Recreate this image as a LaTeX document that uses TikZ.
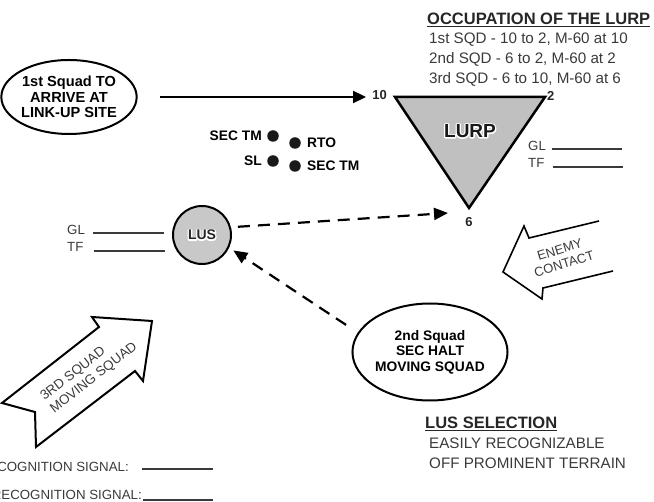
\documentclass[tikz,border=0pt]{standalone}
\usepackage{fontspec}
\setmainfont{Liberation Sans}
\usepackage{tikz}
\usetikzlibrary{arrows.meta, positioning, shapes.geometric}
\definecolor{lurpgray}{HTML}{C0C0C0}
\definecolor{lusgray}{HTML}{C8C8C8}
\definecolor{inkgray}{HTML}{3A3A3A}
% white outline behind a label (stroked copy, then the plain text)
\newcommand{\halotext}[1]{\leavevmode\rlap{\special{pdf:literal direct 1 Tr 2.6 w 1 j 1 1 1 RG}#1\special{pdf:literal direct 0 Tr}}#1}

\begin{document}
\begin{tikzpicture}[x=1pt, y=-1pt,
		rtxt/.style={text=inkgray, inner sep=0pt, font=\fontsize{15.2}{20}\selectfont},
		stxt/.style={text=inkgray, inner sep=0pt, font=\fontsize{13.3}{15}\selectfont},
		btxt/.style={text=black, inner sep=0pt, align=center, font=\bfseries\fontsize{13.8}{15.5}\selectfont},
		htxt/.style={text=black!85, inner sep=0pt, font=\bfseries\fontsize{16.5}{20}\selectfont},
		num/.style={text=black!85, inner sep=0pt, font=\bfseries\fontsize{13}{13}\selectfont},
		squad/.style={ellipse, draw, line width=2pt, btxt},
		dot/.style={circle, fill=black!90, inner sep=0pt, minimum size=11.5pt},
		blank/.style={draw=inkgray, line width=1.4pt},
		movearrow/.style={line width=2.3pt, -{Triangle[length=13pt, width=12pt]}},
		dasharrow/.style={line width=2.2pt, dash pattern=on 12pt off 8pt, -{Triangle[length=14pt, width=12pt]}},
		blockarrow/.style={draw, line width=2pt, line join=miter},
	]
	% Page frame (texts at the left edge are cut off)
	\useasboundingbox (0,0) rectangle (654,502);
	\clip (0,0) rectangle (654,502);

	% LURP triangle and clock positions
	\coordinate (T10) at (395,97);
	\coordinate (T2) at (545,97);
	\coordinate (T6) at (469,208);
	\draw[line width=2.5pt, fill=lurpgray, line join=miter] (T10) -- (T2) -- (T6) -- cycle;
	\node[text=black!90, inner sep=0pt, font=\bfseries\fontsize{19}{19}\selectfont] (N4) at (470,131) {\halotext{LURP}};
	\node[num, left=8pt of T10, yshift=2pt] (N2) {10};
	\node[num, right=2pt of T2, yshift=1pt] (N3) {2};
	\node[num, below=9pt of T6] (N5) {6};

	% Squads
	\node[squad, minimum width=122pt, minimum height=74pt, font=\bfseries\fontsize{14.6}{15.5}\selectfont] (N1) at (69,97) {1st Squad TO\\ARRIVE AT\\LINK-UP SITE};
	\node[squad, minimum width=150pt, minimum height=97pt] (N30) at (430,352) {2nd Squad\\SEC HALT\\MOVING SQUAD};
	\node[circle, draw, line width=2pt, fill=lusgray, minimum size=58pt, inner sep=0pt, text=black!85, font=\bfseries\fontsize{14}{14}\selectfont] (N20) at (202,235) {\halotext{LUS}};

	\draw[movearrow, shorten >=29pt] ([xshift=22pt]N1.east) -- (T10);
	\draw[dasharrow, shorten <=7pt] (N20.15) -- ([xshift=-21pt, yshift=-5pt]T6);
	\draw[dasharrow, shorten <=14pt, shorten >=5pt] (N30.165) -- (N20.-25);

	% Element of the 1st squad
	\node[dot] (N6) at (273,136) {};
	\node[btxt, left=5pt of N6] (N10) {SEC TM};
	\node[dot] (N7) at (295,143) {};
	\node[btxt, right=6pt of N7] (N11) {RTO};
	\node[dot] (N8) at (273,161) {};
	\node[btxt, left=5pt of N8] (N12) {SL};
	\node[dot] (N9) at (295,166) {};
	\node[btxt, right=6pt of N9] (N13) {SEC TM};

	% GL / TF blanks
	\node[stxt, anchor=west] (N14) at (528,146) {GL};
	\draw[blank] ([xshift=6pt, yshift=-3pt]N14.east) -- ++(70,0);
	\node[stxt, anchor=west] (N15) at (528,163) {TF};
	\draw[blank] ([xshift=8pt, yshift=-4pt]N15.east) -- ++(70,0);
	\node[stxt, anchor=west] (N16) at (67,230) {GL};
	\draw[blank] ([xshift=8pt, yshift=-3pt]N16.east) -- ++(71,0);
	\node[stxt, anchor=west] (N17) at (67,247) {TF};
	\draw[blank] ([xshift=10pt, yshift=-4pt]N17.east) -- ++(71,0);

	% Block arrows
	\draw[blockarrow] (2,403) -- (35,412) -- (36,447) -- (135,371) -- (143,381) -- (152,321) -- (92,317) -- (99,327) -- cycle;
	\node[stxt, align=left, rotate=38, font=\fontsize{13.4}{16}\selectfont] (N18) at (89,372) {3RD SQUAD\\MOVING SQUAD};
	\draw[blockarrow, line width=1.6pt] (599,221) -- (529,238) -- (524,226) -- (503,272) -- (542,299) -- (543,288) -- (613,271);
	\node[stxt, align=center, rotate=17, font=\fontsize{13}{15}\selectfont] (N19) at (562,257) {ENEMY\\CONTACT};

	% Notes
	\node[htxt, anchor=base west] (N40) at (427,25) {\underline{OCCUPATION OF THE LURP}};
	\node[rtxt, anchor=base west] (N41) at (429,44) {1st SQD - 10 to 2, M-60 at 10};
	\node[rtxt, anchor=base west] (N42) at (429,64) {2nd SQD - 6 to 2, M-60 at 2};
	\node[rtxt, anchor=base west] (N43) at (429,84) {3rd SQD - 6 to 10, M-60 at 6};
	\node[htxt, anchor=base west] (N50) at (425,429) {\underline{LUS SELECTION}};
	\node[rtxt, anchor=base west] (N51) at (429,449) {EASILY RECOGNIZABLE};
	\node[rtxt, anchor=base west] (N52) at (429,469) {OFF PROMINENT TERRAIN};

	\node[stxt, anchor=base east] (N60) at (129,472) {RECOGNITION SIGNAL:};
	\draw[blank] ([xshift=13pt, yshift=3pt]N60.base east) -- ++(71,0);
	\node[stxt, anchor=base east] (N61) at (142,500) {RECOGNITION SIGNAL:};
	\draw[blank] ([xshift=1pt]N61.base east) -- ++(70,0);
\end{tikzpicture}
\end{document}
